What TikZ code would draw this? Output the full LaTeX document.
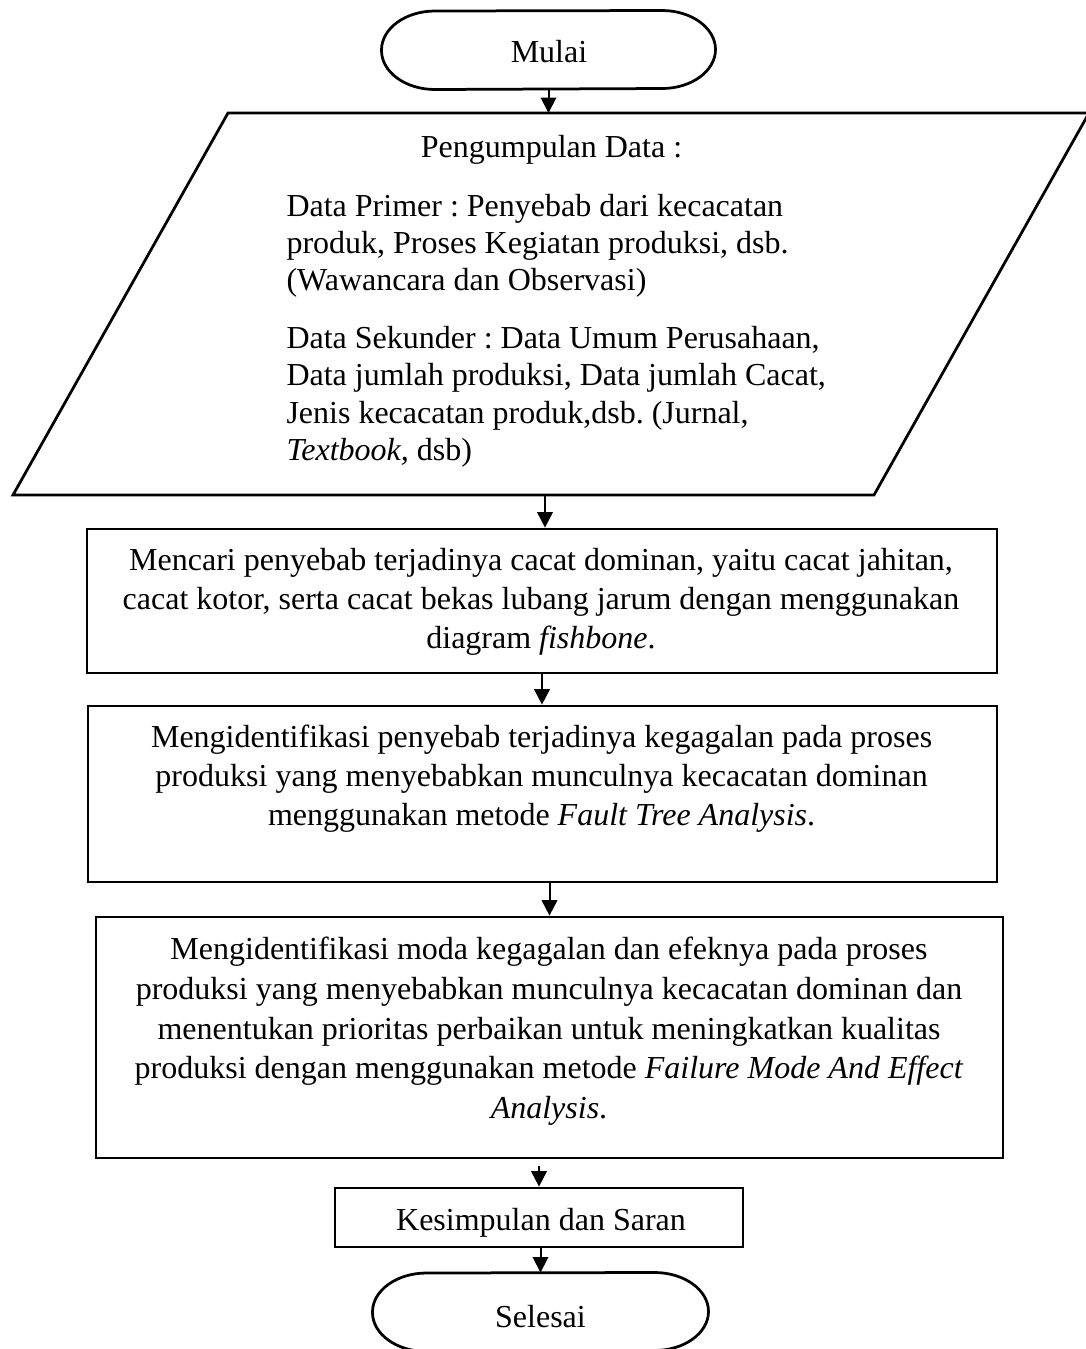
\documentclass[tikz,border=0pt]{standalone}
\usepackage{fontspec}
\setmainfont{Liberation Serif}
\usetikzlibrary{arrows.meta}
\begin{document}
\frenchspacing
\begin{tikzpicture}[x=0.4pt,y=0.4pt,
  line join=miter,
  shapeline/.style={draw, line width=1.1pt},
  boxnode/.style={shapeline, inner sep=0pt},
  blank/.style={inner sep=0pt},
  txt/.style={inner sep=0pt, font=\fontsize{12.8}{15.6}\selectfont},
  arr/.style={-{Triangle[length=6.2pt,width=6.2pt]}, line width=0.8pt},
]
\useasboundingbox (0,0) rectangle (1086,-1349);
\clip (0,0) rectangle (1086,-1349);

% ---------- Start terminal ----------
\node[blank, minimum width=133.2pt, minimum height=31.2pt] (mulai) at (548.5,-50) {};
\draw[shapeline] (mulai.west)
  arc[start angle=180, end angle=90, x radius=21.4pt, y radius=15.6pt]
  -- ([xshift=-21.4pt]mulai.north east)
  arc[start angle=90, end angle=-90, x radius=21.4pt, y radius=15.6pt]
  -- ([xshift=21.4pt]mulai.south west)
  arc[start angle=270, end angle=180, x radius=21.4pt, y radius=15.6pt] -- cycle;
\node[txt, anchor=base] (mulaitxt) at (549,-62.5) {Mulai};

% ---------- Data collection (parallelogram) ----------
\coordinate (pTL) at (228,-113);
\coordinate (pTR) at (1089,-113);
\coordinate (pBR) at (874,-495);
\coordinate (pBL) at (13,-495);
\draw[shapeline] (pTL) -- (pTR) -- (pBR) -- (pBL) -- cycle;
\node[txt, anchor=base] (phead) at (551.5,-157) {Pengumpulan Data :};
\node[txt, font=\fontsize{12.8}{14.8}\selectfont, align=left, anchor=north west] (pprim) at (286,-190.1)
  {\strut Data Primer : Penyebab dari kecacatan\\
   produk, Proses Kegiatan produksi, dsb.\\
   (Wawancara dan Observasi)};
\node[txt, font=\fontsize{12.8}{15}\selectfont, align=left, anchor=north west] (psek) at (286,-321.25)
  {\strut Data Sekunder : Data Umum Perusahaan,\\
   Data jumlah produksi, Data jumlah Cacat,\\
   Jenis kecacatan produk,dsb. (Jurnal,\\
   \textit{Textbook,} dsb)};
\coordinate (pB) at (545,-495);

% ---------- Process boxes ----------
\node[boxnode, minimum width=364pt, minimum height=57.6pt] (box1) at (542,-601) {};
\node[txt, align=center, anchor=north] (box1txt) at (541,-542.7)
  {\strut Mencari penyebab terjadinya cacat dominan, yaitu cacat jahitan,\\
   cacat kotor, serta cacat bekas lubang jarum dengan menggunakan\\
   diagram \textit{fishbone}.};

\node[boxnode, minimum width=363.6pt, minimum height=70.4pt] (box2) at (542.5,-794) {};
\node[txt, align=center, anchor=north] (box2txt) at (541.6,-719.7)
  {\strut Mengidentifikasi penyebab terjadinya kegagalan pada proses\\
   produksi yang menyebabkan munculnya kecacatan dominan\\
   menggunakan metode \textit{Fault Tree Analysis}.};

\node[boxnode, minimum width=362.8pt, minimum height=96.4pt] (box3) at (549.5,-1037.5) {};
\node[txt, font=\fontsize{12.8}{15.9}\selectfont, align=center, anchor=north] (box3txt) at (549,-931.2)
  {\strut Mengidentifikasi moda kegagalan dan efeknya pada proses\\
   produksi yang menyebabkan munculnya kecacatan dominan dan\\
   menentukan prioritas perbaikan untuk meningkatkan kualitas\\
   produksi dengan menggunakan metode \textit{Failure Mode And Effect}\\
   \textit{Analysis}.};

\node[boxnode, minimum width=163.2pt, minimum height=23.6pt] (kes) at (539,-1217.5) {};
\node[txt, anchor=base] (kestxt) at (541,-1230) {Kesimpulan dan Saran};

% ---------- End terminal ----------
\node[blank, minimum width=134pt, minimum height=31.2pt] (sel) at (540.5,-1312) {};
\draw[shapeline] (sel.west)
  arc[start angle=180, end angle=90, x radius=21.6pt, y radius=15.6pt]
  -- ([xshift=-21.6pt]sel.north east)
  arc[start angle=90, end angle=-90, x radius=21.6pt, y radius=15.6pt]
  -- ([xshift=21.6pt]sel.south west)
  arc[start angle=270, end angle=180, x radius=21.6pt, y radius=15.6pt] -- cycle;
\node[txt, anchor=base] (seltxt) at (540.5,-1327) {Selesai};

% ---------- Connectors ----------
\draw[arr] (mulai.south) -- (mulai.south |- pTL);
\draw[arr] (pB) -- (pB |- box1.north);
\draw[arr] (box1.south) -- (box1.south |- box2.north);
\draw[arr] (box3.north |- box2.south) -- (box3.north);
\draw[arr, shorten <=2.8pt] (kes.north |- box3.south) -- (kes.north);
\draw[arr] (sel.north |- kes.south) -- (sel.north);
\end{tikzpicture}
\end{document}
